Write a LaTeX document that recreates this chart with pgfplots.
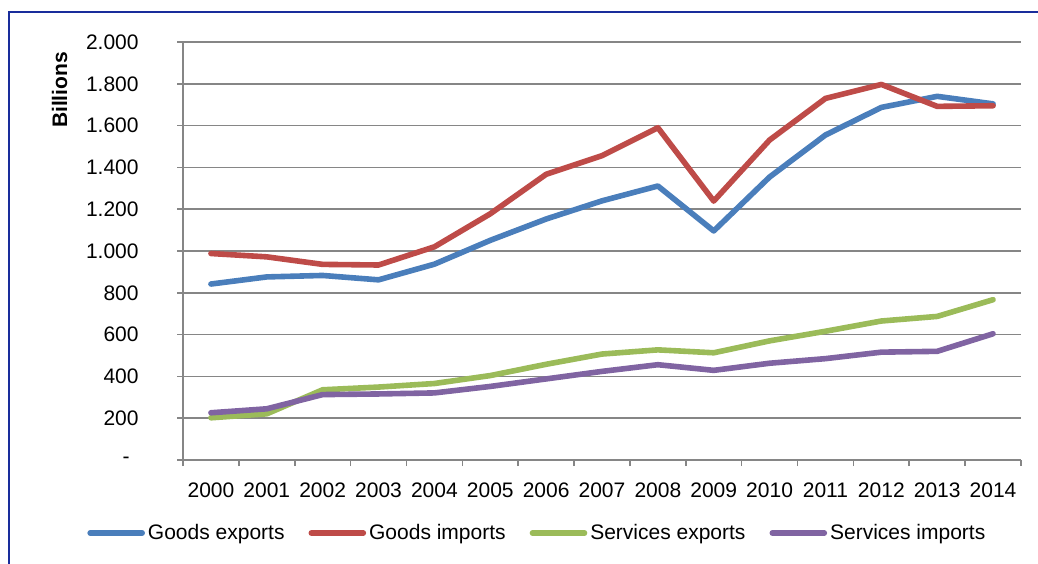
\documentclass[border=0pt]{standalone}
\usepackage{pgfplots}
\pgfplotsset{compat=1.18}
\usepackage{fontspec}
\setmainfont{Liberation Sans}
\definecolor{gexp}{RGB}{74,126,187}
\definecolor{gimp}{RGB}{190,75,72}
\definecolor{sexp}{RGB}{155,187,89}
\definecolor{simp}{RGB}{128,100,162}
\definecolor{gridc}{RGB}{134,134,134}
\definecolor{framec}{RGB}{25,45,155}
\begin{document}
\begin{tikzpicture}[font=\fontsize{10.5}{12.6}\selectfont]
\useasboundingbox (0pt,0pt) rectangle (519pt,281.5pt);
\draw[framec, line width=1pt] (4.5pt,-20pt) rectangle (540pt,275.5pt);
\node[rotate=90, font=\fontsize{10.5}{12.6}\selectfont\bfseries] at (29.75pt,236.5pt) {Billions};
\begin{axis}[
  at={(91.5pt,51.5pt)}, anchor=south west,
  width=419pt, height=209pt, scale only axis=true,
  xmin=-0.5, xmax=14.5, ymin=0, ymax=2000,
  axis x line*=bottom, axis y line*=left,
  axis line style={gridc, line width=0.8pt, -},
  ymajorgrids=true,
  grid style={gridc, line width=0.8pt},
  ytick={0,200,...,2000},
  yticklabels={-\hspace*{4.5pt},200,400,600,800,1.000,1.200,1.400,1.600,1.800,2.000},
  xtick={-0.5,0.5,...,14.5},
  xticklabels={2000,2001,2002,2003,2004,2005,2006,2007,2008,2009,2010,2011,2012,2013,2014},
  x tick label as interval,
  tick align=outside,
  major tick length=3pt,
  tick style={gridc, line width=0.8pt},
  yticklabel style={anchor=east, inner sep=0pt, xshift=-19pt},
  xticklabel style={anchor=north, inner sep=0pt, yshift=-8pt},
  legend columns=4,
  legend style={at={(-0.1146,-0.1746)}, anchor=west, draw=none, fill=none,
    inner sep=0pt, column sep=0pt,
    nodes={inner sep=0pt, anchor=west},
    /tikz/every odd column/.append style={column sep=1.5pt},
    /tikz/every even column/.append style={column sep=12pt}},
  legend image code/.code={\draw[#1, line cap=round] (0pt,0pt) -- (26pt,0pt);},
  every axis plot/.append style={line width=2.8pt, line join=round, line cap=round},
]
\addplot[gexp] coordinates {(0,842) (1,876) (2,883) (3,862) (4,937) (5,1051) (6,1153) (7,1240) (8,1311) (9,1096) (10,1354) (11,1555) (12,1687) (13,1740) (14,1704)};
\addlegendentry{Goods exports}
\addplot[gimp] coordinates {(0,988) (1,972) (2,936) (3,933) (4,1020) (5,1178) (6,1367) (7,1456) (8,1590) (9,1239) (10,1531) (11,1730) (12,1797) (13,1692) (14,1695)};
\addlegendentry{Goods imports}
\addplot[sexp] coordinates {(0,202) (1,221) (2,336) (3,349) (4,366) (5,404) (6,458) (7,507) (8,527) (9,513) (10,570) (11,616) (12,665) (13,687) (14,767)};
\addlegendentry{Services exports}
\addplot[simp] coordinates {(0,226) (1,245) (2,313) (3,316) (4,321) (5,352) (6,388) (7,424) (8,456) (9,429) (10,463) (11,485) (12,516) (13,520) (14,604)};
\addlegendentry{Services imports}
\end{axis}
\end{tikzpicture}
\end{document}
